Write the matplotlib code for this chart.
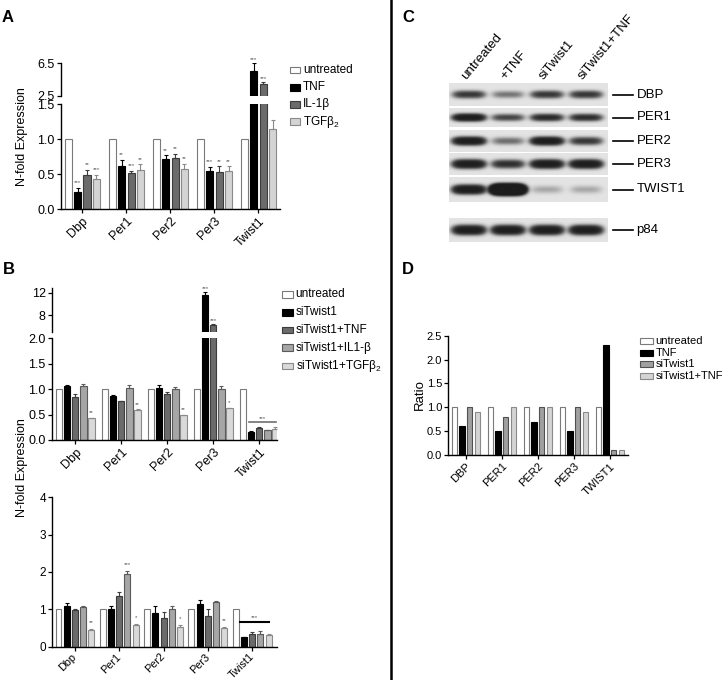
import numpy as np
import matplotlib
matplotlib.use('Agg')
import matplotlib.pyplot as plt
from matplotlib.patches import Rectangle
from matplotlib.lines import Line2D

plt.rcParams['font.family'] = ['Liberation Sans', 'DejaVu Sans']
plt.rcParams['mathtext.fontset'] = 'custom'
plt.rcParams['mathtext.rm'] = 'Liberation Sans'
plt.rcParams['mathtext.it'] = 'Liberation Sans:italic'

W, H = 725, 680

# ---------------- data ----------------
genes = ['Dbp', 'Per1', 'Per2', 'Per3', 'Twist1']

# panel A
a_labels = ['untreated', 'TNF', 'IL-1β', 'TGFβ$_2$']
a_untreated = [1.0, 1.0, 1.0, 1.0, 1.0]
a_tnf = [0.25, 0.62, 0.72, 0.55, 5.5]
a_il1b = [0.48, 0.51, 0.73, 0.53, 4.0]
a_tgfb2 = [0.43, 0.56, 0.57, 0.55, 1.14]
a_tnf_err = [0.05, 0.08, 0.05, 0.05, 1.0]
a_il1b_err = [0.08, 0.04, 0.06, 0.08, 0.2]
a_tgfb2_err = [0.06, 0.08, 0.08, 0.06, 0.14]
a_tnf_sig = ['***', '**', '**', '***', '***']
a_il1b_sig = ['**', '***', '**', '**', '***']
a_tgfb2_sig = ['***', '**', '**', '**', '']

# panel B (upper chart)
b_labels = ['untreated', 'siTwist1', 'siTwist1+TNF', 'siTwist1+IL1-β', 'siTwist1+TGFβ$_2$']
b1_untreated = [1.0, 1.0, 1.0, 1.0, 1.0]
b1_si = [1.06, 0.86, 1.03, 11.6, 0.16]
b1_si_tnf = [0.84, 0.76, 0.90, 6.2, 0.23]
b1_si_il1 = [1.06, 1.03, 1.0, 1.01, 0.19]
b1_si_tgf = [0.43, 0.59, 0.49, 0.62, 0.21]
b1_si_err = [0.03, 0.02, 0.06, 0.5, 0.01]
b1_si_tnf_err = [0.07, 0.01, 0.05, 0.1, 0.02]
b1_si_il1_err = [0.05, 0.06, 0.05, 0.06, 0.01]
b1_si_tgf_err = [0.01, 0.01, 0.01, 0.01, 0.04]
b1_si_sig = ['', '', '', '***', '']
b1_si_tnf_sig = ['', '', '', '***', '']
b1_si_tgf_sig = ['**', '**', '**', '*', '']
b1_twist_line = 0.36

# panel B (lower chart)
b2_untreated = [1.0, 1.0, 1.0, 1.0, 1.0]
b2_si = [1.1, 1.02, 0.9, 1.13, 0.25]
b2_si_tnf = [0.97, 1.36, 0.78, 0.83, 0.33]
b2_si_il1 = [1.05, 1.95, 1.0, 1.2, 0.35]
b2_si_tgf = [0.45, 0.58, 0.54, 0.5, 0.3]
b2_si_err = [0.06, 0.06, 0.18, 0.12, 0.02]
b2_si_tnf_err = [0.05, 0.1, 0.16, 0.18, 0.07]
b2_si_il1_err = [0.04, 0.09, 0.1, 0.02, 0.06]
b2_si_tgf_err = [0.02, 0.04, 0.05, 0.03, 0.05]
b2_si_il1_sig = ['', '***', '', '', '']
b2_si_tgf_sig = ['**', '*', '*', '**', '']
b2_twist_line = 0.67

# panel C (western blot, relative band signal per lane)
blot_lanes = ['untreated', '+TNF', 'siTwist1', 'siTwist1+TNF']
blot_rows = ['DBP', 'PER1', 'PER2', 'PER3', 'TWIST1', 'p84']
dbp_band = [2.0, 0.8, 2.0, 2.0]
per1_band = [4.5, 1.6, 2.6, 2.4]
per2_band = [4.5, 0.9, 4.5, 2.0]
per3_band = [4.5, 2.4, 4.5, 4.5]
twist1_band = [5.0, 30.0, 0.35, 0.35]
p84_band = [4.5, 4.5, 4.5, 4.5]

# panel D
d_genes = ['DBP', 'PER1', 'PER2', 'PER3', 'TWIST1']
d_labels = ['untreated', 'TNF', 'siTwist1', 'siTwist1+TNF']
d_untreated = [1.0, 1.0, 1.0, 1.0, 1.0]
d_tnf = [0.6, 0.5, 0.7, 0.5, 2.3]
d_si = [1.0, 0.8, 1.0, 1.0, 0.1]
d_si_tnf = [0.9, 1.0, 1.0, 0.9, 0.1]

# ---------------- figure ----------------
fig = plt.figure(figsize=(W / 100, H / 100), dpi=100)


def px_axes(x0, y0, x1, y1):
    return fig.add_axes([x0 / W, 1 - y1 / H, (x1 - x0) / W, (y1 - y0) / H])


def style(ax, ticksize, xlabels=None, bottom=True, xsize=None, xva='top'):
    for s in ['top', 'right']:
        ax.spines[s].set_visible(False)
    ax.spines['left'].set_linewidth(1.0)
    ax.spines['bottom'].set_linewidth(1.0)
    ax.patch.set_alpha(0)
    ax.tick_params(direction='out', length=3, width=0.9, labelsize=ticksize, pad=1.5)
    if bottom and xlabels is not None:
        ax.set_xticks(np.arange(len(xlabels)))
        ax.set_xticklabels(xlabels, rotation=45, ha='right', va=xva,
                           rotation_mode='anchor', fontsize=xsize or ticksize)
    else:
        ax.spines['bottom'].set_visible(False)
        ax.set_xticks([])


def bars(axs, series, errs, colors, edges, step, width, sigs=None, split=None):
    n = len(series)
    x = np.arange(len(genes))
    for i in range(n):
        xi = x + (i - (n - 1) / 2) * step
        vals = np.array(series[i])
        for ax in axs:
            ax.bar(xi, vals, width, color=colors[i], edgecolor=edges[i], linewidth=0.8)
            if errs is not None and errs[i] is not None:
                e = np.array(errs[i])
                ax.errorbar(xi, vals, yerr=[np.zeros(len(e)), e], fmt='none',
                            ecolor=edges[i], elinewidth=0.8, capsize=1.6, capthick=0.8)
        if sigs is not None and sigs[i] is not None:
            for k, s in enumerate(sigs[i]):
                if not s:
                    continue
                top = vals[k] + (errs[i][k] if errs is not None and errs[i] is not None else 0)
                ax = axs[0]
                if split is not None and top > split:
                    ax = axs[1]
                lo, hi = ax.get_ylim()
                ax.text(xi[k], top + (hi - lo) * 0.025, s, ha='center', va='bottom',
                        fontsize=4.5, color='#555555')


def legend(x, ys, labels, colors, edges, pw, ph, size):
    for y, lab, c, e in zip(ys, labels, colors, edges):
        fig.add_artist(Rectangle((x / W, 1 - (y + ph / 2) / H), pw / W, ph / H,
                                 transform=fig.transFigure, facecolor=c,
                                 edgecolor=e, linewidth=0.8))
        fig.text((x + pw + 3) / W, 1 - y / H, lab, ha='left', va='center', fontsize=size)


# ---------------- panel A ----------------
a_colors = ['white', 'black', '#6b6b6b', '#d4d4d4']
a_edges = ['#7a7a7a', 'black', '#3c3c3c', '#8a8a8a']
axA = px_axes(60.7, 104.3, 280, 209)
axA2 = px_axes(60.7, 63.3, 280, 96)
for ax in (axA, axA2):
    ax.set_xlim(-0.49, 4.49)
axA.set_ylim(0, 1.5)
axA2.set_ylim(2.5, 6.5)
bars([axA, axA2], [a_untreated, a_tnf, a_il1b, a_tgfb2],
     [None, a_tnf_err, a_il1b_err, a_tgfb2_err], a_colors, a_edges, 0.214, 0.16,
     sigs=[None, a_tnf_sig, a_il1b_sig, a_tgfb2_sig], split=1.5)
style(axA, 9, genes)
style(axA2, 9, bottom=False)
axA.set_yticks([0, 0.5, 1.0, 1.5])
axA.set_yticklabels(['0.0', '0.5', '1.0', '1.5'])
axA2.set_yticks([2.5, 6.5])
axA2.set_yticklabels(['2.5', '6.5'])
fig.text(22.5 / W, 1 - 137 / H, 'N-fold Expression', rotation=90, ha='center', va='center', fontsize=9)
legend(289.5, [70, 87.3, 104.5, 121.7], a_labels, a_colors, a_edges, 10.5, 6.5, 8.5)
fig.text(8 / W, 1 - 18 / H, 'A', fontsize=12, fontweight='bold', ha='center', va='center')

# ---------------- panel B ----------------
b_colors = ['white', 'black', '#6b6b6b', '#a6a6a6', '#d9d9d9']
b_edges = ['#7a7a7a', 'black', '#3c3c3c', '#5a5a5a', '#8a8a8a']

axB = px_axes(52, 338.3, 277, 440)
axB2 = px_axes(52, 288.3, 277, 331.7)
for ax in (axB, axB2):
    ax.set_xlim(-0.507, 4.385)
axB.set_ylim(0, 2.0)
axB2.set_ylim(5, 12.8)
bars([axB, axB2], [b1_untreated, b1_si, b1_si_tnf, b1_si_il1, b1_si_tgf],
     [None, b1_si_err, b1_si_tnf_err, b1_si_il1_err, b1_si_tgf_err],
     b_colors, b_edges, 0.176, 0.137,
     sigs=[None, b1_si_sig, b1_si_tnf_sig, None, b1_si_tgf_sig], split=2.0)
style(axB, 9, genes)
style(axB2, 9, bottom=False)
axB.set_yticks([0, 0.5, 1.0, 1.5, 2.0])
axB.set_yticklabels(['0.0', '0.5', '1.0', '1.5', '2.0'])
axB2.set_yticks([8, 12])
axB.plot([3.78, 4.36], [b1_twist_line] * 2, color='#707070', lw=1.2, clip_on=False)
axB.text(4.07, b1_twist_line + 0.02, '***', ha='center', va='bottom', fontsize=4.5, color='#555555')

axB3 = px_axes(52.3, 497.3, 277, 646.7)
axB3.set_xlim(-0.51, 4.56)
axB3.set_ylim(0, 4)
bars([axB3], [b2_untreated, b2_si, b2_si_tnf, b2_si_il1, b2_si_tgf],
     [None, b2_si_err, b2_si_tnf_err, b2_si_il1_err, b2_si_tgf_err],
     b_colors, b_edges, 0.185, 0.135,
     sigs=[None, None, None, b2_si_il1_sig, b2_si_tgf_sig])
style(axB3, 8.5, genes, xsize=7.8, xva='center')
axB3.tick_params(axis='x', pad=3)
axB3.set_yticks([0, 1, 2, 3, 4])
axB3.plot([3.72, 4.39], [b2_twist_line] * 2, color='black', lw=1.5)
axB3.text(4.05, b2_twist_line + 0.04, '***', ha='center', va='bottom', fontsize=4.5, color='#555555')

fig.text(22.5 / W, 1 - 468 / H, 'N-fold Expression', rotation=90, ha='center', va='center', fontsize=9)
legend(281.5, [294.3, 312.3, 330, 347.7, 366], b_labels, b_colors, b_edges, 11, 6.5, 8.5)
fig.text(9 / W, 1 - 270 / H, 'B', fontsize=12, fontweight='bold', ha='center', va='center')

# ---------------- panel C ----------------
axC = px_axes(390, 0, 725, 320)
axC.axis('off')

strip_x0, strip_x1 = 449, 608
strip_top = [83, 108, 130, 153, 177, 218]
strip_bot = [106, 127, 152, 175, 202, 242]
band_sy = [3.2, 3.0, 3.3, 3.5, 3.6, 3.8]
lane_x = strip_x0 + 20 + 39 * np.arange(len(blot_lanes))
signals = [dbp_band, per1_band, per2_band, per3_band, twist1_band, p84_band]

xs = np.arange(strip_x0, strip_x1) + 0.5
for r, name in enumerate(blot_rows):
    ys = np.arange(strip_top[r], strip_bot[r]) + 0.5
    yc = (strip_top[r] + strip_bot[r]) / 2
    gy = np.exp(-((ys - yc) / band_sy[r]) ** 2)[:, None]
    dark = np.zeros((len(ys), len(xs)))
    for lx, amt in zip(lane_x, signals[r]):
        gx = np.exp(-((xs - lx) / 15) ** 4)[None, :]
        dark += amt * gx * gy
    img = 0.89 - 0.78 * (1 - np.exp(-dark))
    axC.imshow(img, cmap='gray', vmin=0, vmax=1, extent=(strip_x0, strip_x1, strip_bot[r], strip_top[r]),
               aspect='auto', interpolation='bilinear')
    axC.plot([612.7, 632.7], [yc, yc], color='black', lw=1.2)
    axC.text(636.5, yc, name, ha='left', va='center', fontsize=9.5)

for lx, lab in zip(lane_x, blot_lanes):
    axC.text(lx - 3, 80, lab, rotation=50, rotation_mode='anchor', ha='left', va='baseline', fontsize=9.5)
axC.set_xlim(390, 725)
axC.set_ylim(320, 0)
fig.text(408 / W, 1 - 17 / H, 'C', fontsize=12, fontweight='bold', ha='center', va='center')

# ---------------- panel D ----------------
d_colors = ['white', 'black', '#a0a0a0', '#d4d4d4']
d_edges = ['#7a7a7a', 'black', '#505050', '#8a8a8a']
axD = px_axes(448.3, 335.7, 628.3, 455)
axD.set_xlim(-0.49, 4.51)
axD.set_ylim(0, 2.5)
bars([axD], [d_untreated, d_tnf, d_si, d_si_tnf], None, d_colors, d_edges, 0.211, 0.153)
style(axD, 8, d_genes)
axD.set_yticks([0, 0.5, 1.0, 1.5, 2.0, 2.5])
axD.set_yticklabels(['0.0', '0.5', '1.0', '1.5', '2.0', '2.5'])
fig.text(420 / W, 1 - 395 / H, 'Ratio', rotation=90, ha='center', va='center', fontsize=9.5)
legend(640, [341, 352.7, 364.3, 376], d_labels, d_colors, d_edges, 12.5, 6, 8)
fig.text(408 / W, 1 - 270 / H, 'D', fontsize=12, fontweight='bold', ha='center', va='center')

# divider between left and right halves
fig.add_artist(Line2D([391.3 / W, 391.3 / W], [0, 1], transform=fig.transFigure, color='black', lw=1.8))

fig.savefig('out.png', dpi=100)
